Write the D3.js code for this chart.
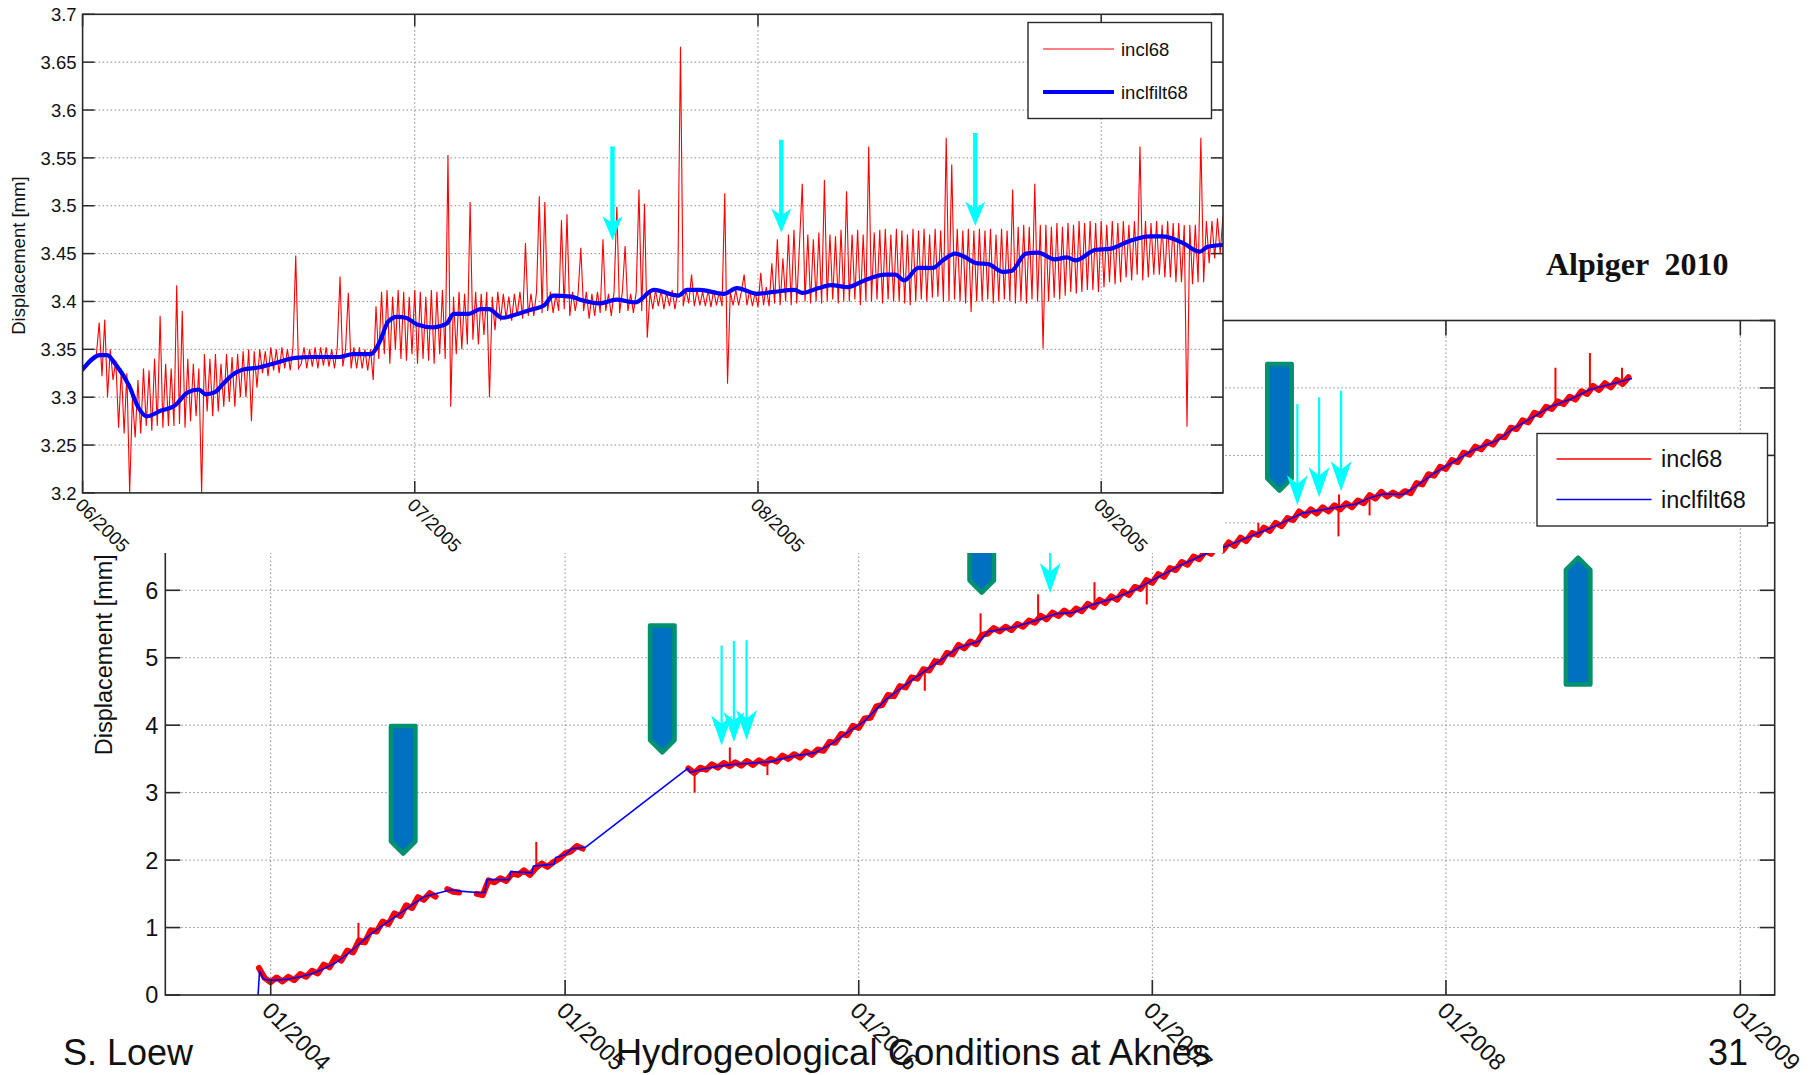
<!DOCTYPE html>
<html>
<head>
<meta charset="utf-8">
<script src="https://cdn.jsdelivr.net/npm/d3@7"></script>
<style>
  html, body { margin: 0; padding: 0; background: #ffffff; }
  svg { display: block; }
  text { font-family: "Liberation Sans", Arial, Helvetica, sans-serif; fill: #111; }
  text.serif { font-family: "Liberation Serif", "Times New Roman", serif; font-weight: bold; white-space: pre; }
</style>
</head>
<body>
<svg id="chart" width="1813" height="1075"></svg>
<script>
// ---------------------------------------------------------------------------
// Inclinometer 68 at Aknes: long-term record (2003-2008) with a zoomed inset
// covering June - mid September 2005.
// ---------------------------------------------------------------------------

// ---- long-term record -----------------------------------------------------
const mainYearDomain = [2003.641, 2009.117];
const mainYTicks = [0, 1, 2, 3, 4, 5, 6, 7, 8, 9, 10];
const mainXTickYears = [2004, 2005, 2006, 2007, 2008, 2009];

// filtered displacement (decimal year, mm)
const filtMainYears = [
  2003.957, 2003.962, 2003.975, 2003.990, 2004.030, 2004.066, 2004.100, 2004.142, 2004.180, 2004.218,
  2004.256, 2004.294, 2004.330, 2004.370, 2004.410, 2004.446, 2004.485, 2004.522, 2004.560, 2004.613,
  2004.643, 2004.700, 2004.727, 2004.735, 2004.810, 2004.815, 2004.887, 2004.892, 2004.963, 2004.968,
  2005.000, 2005.023, 2005.069, 2005.418, 2005.425, 2005.470, 2005.520, 2005.576, 2005.640, 2005.698,
  2005.774, 2005.850, 2005.910, 2005.971, 2006.017, 2006.092, 2006.184, 2006.275, 2006.335, 2006.412,
  2006.442, 2006.518, 2006.609, 2006.670, 2006.731, 2006.791, 2006.867, 2006.943, 2007.004, 2007.095,
  2007.217, 2007.244, 2007.335, 2007.428, 2007.508, 2007.614, 2007.694, 2007.740, 2007.787, 2007.854,
  2007.894, 2007.961, 2008.027, 2008.093, 2008.173, 2008.226, 2008.293, 2008.359, 2008.426, 2008.492,
  2008.572, 2008.632
];
const filtMainValues = [
  0.00, 0.36, 0.24, 0.22, 0.22, 0.24, 0.27, 0.32, 0.39, 0.47,
  0.59, 0.73, 0.87, 1.00, 1.12, 1.23, 1.35, 1.46, 1.50, 1.56,
  1.54, 1.52, 1.52, 1.71, 1.71, 1.83, 1.81, 1.91, 1.94, 2.04,
  2.08, 2.17, 2.19, 3.36, 3.30, 3.35, 3.39, 3.42, 3.44, 3.46,
  3.54, 3.59, 3.73, 3.92, 4.05, 4.38, 4.68, 4.95, 5.14, 5.25,
  5.39, 5.44, 5.56, 5.65, 5.67, 5.78, 5.88, 6.01, 6.16, 6.37,
  6.61, 6.64, 6.80, 6.97, 7.14, 7.22, 7.28, 7.37, 7.43, 7.42,
  7.53, 7.74, 7.91, 8.08, 8.22, 8.39, 8.56, 8.73, 8.84, 8.98,
  9.07, 9.14
];

// raw displacement, one reading every 0.02 yr from 2003.96 (null = no data)
const rawMainStart = 2003.96;
const rawMainStep = 0.02;
const rawMainValues = [
  0.40, 0.25, 0.19, 0.26, 0.20, 0.27, 0.22, 0.31, 0.27, 0.36,
  0.32, 0.45, 0.41, 0.56, 0.51, 0.66, 0.63, 0.81, 0.78, 0.96,
  0.94, 1.09, 1.05, 1.21, 1.17, 1.33, 1.29, 1.45, 1.41, 1.51,
  1.46, null, 1.57, 1.53, 1.52, null, null, 1.50, 1.48, 1.70,
  1.67, 1.73, 1.69, 1.80, 1.78, 1.85, 1.78, 1.88, 1.95, 1.90,
  1.97, 2.02, 2.10, 2.13, 2.21, 2.17, null, null, null, null,
  null, null, null, null, null, null, null, null, null, null,
  null, null, null, 3.36, 3.29, 3.37, 3.34, 3.42, 3.37, 3.44,
  3.39, 3.45, 3.40, 3.47, 3.41, 3.48, 3.43, 3.50, 3.46, 3.55,
  3.50, 3.57, 3.52, 3.61, 3.56, 3.64, 3.62, 3.75, 3.74, 3.87,
  3.85, 3.99, 3.96, 4.10, 4.11, 4.28, 4.30, 4.45, 4.43, 4.58,
  4.56, 4.71, 4.69, 4.83, 4.81, 4.95, 4.93, 5.07, 5.05, 5.19,
  5.14, 5.24, 5.20, 5.34, 5.36, 5.44, 5.39, 5.46, 5.41, 5.50,
  5.46, 5.55, 5.52, 5.62, 5.57, 5.67, 5.62, 5.70, 5.64, 5.73,
  5.69, 5.80, 5.75, 5.86, 5.81, 5.91, 5.86, 5.98, 5.93, 6.05,
  6.02, 6.15, 6.11, 6.24, 6.20, 6.33, 6.30, 6.42, 6.38, 6.50,
  6.46, 6.58, 6.54, 6.65, 6.59, 6.71, 6.66, 6.78, 6.73, 6.85,
  6.82, 6.93, 6.88, 7.00, 6.95, 7.07, 7.04, 7.17, 7.11, 7.20,
  7.14, 7.23, 7.17, 7.26, 7.20, 7.29, 7.23, 7.33, 7.29, 7.41,
  7.36, 7.46, 7.39, 7.45, 7.40, 7.47, 7.44, 7.59, 7.57, 7.72,
  7.70, 7.83, 7.80, 7.93, 7.90, 8.04, 8.01, 8.13, 8.09, 8.20,
  8.16, 8.28, 8.27, 8.41, 8.39, 8.52, 8.49, 8.63, 8.60, 8.72,
  8.69, 8.80, 8.76, 8.87, 8.83, 8.95, 8.91, 9.03, 8.97, 9.07,
  9.01, 9.12, 9.06, 9.16
];

// isolated outliers in the raw record: [decimal year, baseline mm, extreme mm]
const rawMainSpikes = [
  [2004.298, 0.78, 1.07], [2004.902, 1.88, 2.27], [2005.441, 3.30, 3.00],
  [2005.561, 3.41, 3.67], [2005.689, 3.45, 3.26], [2006.225, 4.82, 4.51],
  [2006.415, 5.26, 5.66], [2006.611, 5.57, 5.94], [2006.803, 5.79, 6.12],
  [2006.981, 6.10, 5.79], [2007.361, 6.85, 7.00], [2007.634, 7.23, 6.80],
  [2007.636, 7.23, 7.42], [2007.740, 7.37, 7.11], [2008.372, 8.75, 9.30],
  [2008.489, 8.97, 9.52], [2008.598, 9.10, 9.30]
];

// large block arrows: [decimal year, start mm, end (tip) mm]
const blockArrows = [
  [2004.450, 4.02, 2.05], [2005.331, 5.51, 3.55], [2006.419, 7.00, 5.92],
  [2007.433, 9.39, 7.43], [2008.449, 4.57, 6.53]
];
// thin cyan event arrows: [decimal year, start mm, tip mm]
const mainEventArrows = [
  [2005.533, 5.18, 3.70], [2005.575, 5.25, 3.75], [2005.618, 5.26, 3.78],
  [2006.652, 6.70, 5.96],
  [2007.494, 8.76, 7.26], [2007.568, 8.86, 7.38], [2007.643, 8.96, 7.47]
];

// ---- inset: June - September 2005 ------------------------------------------
const insetStart = "2005-06-01";
const insetEnd = "2005-09-12";
const insetYTicks = [3.2, 3.25, 3.3, 3.35, 3.4, 3.45, 3.5, 3.55, 3.6, 3.65, 3.7];

// raw readings every 6 hours from 2 June 2005 06:00
const rawInsetStart = "2005-06-02T06:00:00Z";
const rawInsetStepHours = 6;
const rawInsetValues = [
  3.345, 3.378, 3.322,
  3.381, 3.300, 3.350, 3.318,  3.338, 3.268, 3.330, 3.262,
  3.325, 3.200, 3.300, 3.258,  3.318, 3.262, 3.330, 3.270,
  3.328, 3.265, 3.340, 3.270,  3.385, 3.268, 3.335, 3.270,
  3.330, 3.270, 3.417, 3.272,  3.390, 3.268, 3.340, 3.275,
  3.335, 3.280, 3.330, 3.200,  3.345, 3.285, 3.340, 3.280,
  3.345, 3.285, 3.335, 3.290,  3.345, 3.295, 3.342, 3.290,
  3.345, 3.300, 3.348, 3.300,  3.350, 3.275, 3.348, 3.310,
  3.350, 3.325, 3.348, 3.322,  3.352, 3.328, 3.350, 3.325,
  3.352, 3.330, 3.350, 3.328,  3.352, 3.448, 3.330, 3.335,
  3.352, 3.330, 3.350, 3.332,  3.352, 3.330, 3.352, 3.333,
  3.352, 3.332, 3.350, 3.330,  3.352, 3.426, 3.332, 3.350,
  3.409, 3.330, 3.352, 3.330,  3.352, 3.330, 3.350, 3.328,
  3.350, 3.318, 3.395, 3.340,  3.410, 3.345, 3.412, 3.335,
  3.405, 3.350, 3.412, 3.340,  3.410, 3.338, 3.405, 3.345,
  3.412, 3.335, 3.410, 3.340,  3.405, 3.338, 3.412, 3.335,
  3.410, 3.345, 3.412, 3.340,  3.553, 3.290, 3.405, 3.345,
  3.410, 3.350, 3.408, 3.355,  3.504, 3.360, 3.410, 3.355,
  3.408, 3.365, 3.410, 3.300,  3.405, 3.370, 3.410, 3.380,
  3.408, 3.382, 3.405, 3.380,  3.408, 3.385, 3.410, 3.382,
  3.461, 3.385, 3.408, 3.385,  3.410, 3.510, 3.388, 3.504,
  3.390, 3.410, 3.388, 3.408,  3.390, 3.485, 3.392, 3.491,
  3.385, 3.410, 3.390, 3.408,  3.456, 3.390, 3.410, 3.382,
  3.408, 3.385, 3.410, 3.388,  3.465, 3.390, 3.408, 3.385,
  3.410, 3.499, 3.388, 3.410,  3.458, 3.390, 3.408, 3.388,
  3.410, 3.517, 3.390, 3.502,  3.362, 3.410, 3.392, 3.412,
  3.395, 3.412, 3.392, 3.410,  3.395, 3.412, 3.392, 3.410,
  3.666, 3.395, 3.412, 3.398,  3.428, 3.395, 3.412, 3.396,
  3.410, 3.395, 3.412, 3.394,  3.412, 3.396, 3.410, 3.395,
  3.513, 3.314, 3.410, 3.396,  3.412, 3.396, 3.410, 3.428,
  3.396, 3.412, 3.395, 3.410,  3.394, 3.430, 3.396, 3.415,
  3.395, 3.440, 3.398, 3.465,  3.396, 3.445, 3.400, 3.470,
  3.396, 3.475, 3.398, 3.460,  3.523, 3.400, 3.470, 3.398,
  3.465, 3.400, 3.472, 3.398,  3.527, 3.400, 3.470, 3.402,
  3.468, 3.398, 3.475, 3.400,  3.515, 3.400, 3.470, 3.402,
  3.475, 3.396, 3.470, 3.400,  3.562, 3.400, 3.472, 3.402,
  3.475, 3.398, 3.476, 3.402,  3.470, 3.400, 3.476, 3.400,
  3.474, 3.398, 3.470, 3.396,  3.476, 3.400, 3.474, 3.402,
  3.476, 3.400, 3.470, 3.404,  3.476, 3.405, 3.474, 3.400,
  3.571, 3.400, 3.543, 3.402,  3.476, 3.400, 3.474, 3.398,
  3.476, 3.389, 3.474, 3.400,  3.476, 3.400, 3.474, 3.402,
  3.476, 3.398, 3.470, 3.400,  3.476, 3.402, 3.474, 3.400,
  3.517, 3.398, 3.478, 3.400,  3.480, 3.398, 3.478, 3.402,
  3.523, 3.400, 3.480, 3.351,  3.480, 3.400, 3.478, 3.404,
  3.482, 3.402, 3.478, 3.406,  3.482, 3.410, 3.480, 3.408,
  3.484, 3.410, 3.482, 3.412,  3.484, 3.412, 3.482, 3.410,
  3.484, 3.415, 3.480, 3.420,  3.484, 3.418, 3.482, 3.420,
  3.484, 3.425, 3.480, 3.422,  3.484, 3.428, 3.562, 3.422,
  3.484, 3.425, 3.482, 3.428,  3.484, 3.428, 3.480, 3.425,
  3.484, 3.425, 3.482, 3.420,  3.482, 3.420, 3.480, 3.269,
  3.480, 3.418, 3.480, 3.420,  3.571, 3.420, 3.484, 3.440,
  3.484, 3.445, 3.487, 3.450,  3.490
];

// filtered series: [days after 1 June 2005, mm]
const filtInsetDays = [
  0, 1.6, 2.2, 3.0, 4.2, 5.0, 5.8, 7.1, 8.3, 9.5, 10.5, 11.1, 11.9, 12.7, 13.5, 14.5,
  15.9, 17.5, 19.2, 20.8, 23.2, 24.4, 26.0, 26.8, 27.6, 28.4, 29.2, 30.2, 31.7, 32.9,
  33.5, 34.9, 35.9, 36.7, 37.9, 39.3, 40.7, 41.7, 42.5, 44.1, 44.9, 46.7, 48.2, 49.9,
  51.6, 53.8, 54.6, 55.7, 57.9, 59.1, 60.9, 62.4, 64.3, 65.0, 66.5, 67.6, 69.1, 70.6,
  72.5, 73.4, 74.2, 75.5, 76.8, 77.7, 78.8, 79.6, 80.7, 81.8, 83.1, 83.9, 85.2, 86.3,
  87.8, 88.9, 89.7, 91.5, 92.8, 94.5, 96.4, 97.5, 99.4, 100.9, 101.6, 103.0
];
const filtInsetValues = [
  3.329, 3.344, 3.344, 3.334, 3.312, 3.290, 3.280, 3.286, 3.291, 3.305, 3.308, 3.303, 3.305, 3.314, 3.323, 3.329,
  3.331, 3.336, 3.341, 3.342, 3.342, 3.345, 3.345, 3.357, 3.379, 3.384, 3.383, 3.376, 3.373, 3.377,
  3.387, 3.387, 3.392, 3.392, 3.383, 3.387, 3.392, 3.396, 3.406, 3.405, 3.402, 3.398, 3.402, 3.399,
  3.412, 3.406, 3.412, 3.412, 3.408, 3.414, 3.408, 3.410, 3.412, 3.409, 3.414, 3.417, 3.415, 3.422,
  3.428, 3.428, 3.422, 3.435, 3.435, 3.443, 3.450, 3.447, 3.440, 3.439, 3.431, 3.432, 3.450, 3.451,
  3.444, 3.446, 3.443, 3.454, 3.455, 3.463, 3.468, 3.468, 3.461, 3.452, 3.457, 3.459
];

// cyan event arrows in the inset: [days after 1 June 2005, start mm, tip mm]
const insetEventArrows = [
  [47.86, 3.562, 3.464], [63.11, 3.569, 3.472], [80.63, 3.576, 3.479]
];

const seriesNames = ["incl68", "inclfilt68"];

// ---------------------------------------------------------------------------
const RED = "#ff0000", BLUE = "#0000ff", CYAN = "#00ffff";
const AXIS = "#2a2a2a", GRID = "#8a8a8a";
const svg = d3.select("#chart");

function yearToDate(y) {
  const yr = Math.floor(y);
  const s = Date.UTC(yr, 0, 1), e = Date.UTC(yr + 1, 0, 1);
  return new Date(s + (y - yr) * (e - s));
}

// ============================ long-term panel ==============================
const M = { left: 165.3, right: 1774.7, top: 320.5, bottom: 995 };
const mx = d3.scaleUtc()
  .domain(mainYearDomain.map(yearToDate))
  .range([M.left, M.right]);
const my = d3.scaleLinear().domain([0, 10]).range([M.bottom, M.top]);

const gMain = svg.append("g");
svg.append("clipPath").attr("id", "clipMain")
  .append("rect").attr("x", M.left).attr("y", M.top)
  .attr("width", M.right - M.left).attr("height", M.bottom - M.top);

const mainXTicks = mainXTickYears.map(y => new Date(Date.UTC(y, 0, 1)));

// grid
gMain.append("g").selectAll("line.v").data(mainXTicks).join("line")
  .attr("x1", d => mx(d)).attr("x2", d => mx(d))
  .attr("y1", M.top).attr("y2", M.bottom)
  .attr("stroke", GRID).attr("stroke-width", 1).attr("stroke-dasharray", "1.5 2.5");
gMain.append("g").selectAll("line.h").data(mainYTicks.slice(1, -1)).join("line")
  .attr("x1", M.left).attr("x2", M.right)
  .attr("y1", d => my(d)).attr("y2", d => my(d))
  .attr("stroke", GRID).attr("stroke-width", 1).attr("stroke-dasharray", "1.5 2.5");

// raw series
const rawMain = rawMainValues.map((v, i) => ({ t: yearToDate(rawMainStart + i * rawMainStep), v }));
const gMainData = gMain.append("g").attr("clip-path", "url(#clipMain)");
gMainData.append("path").datum(rawMain)
  .attr("fill", "none").attr("stroke", RED).attr("stroke-width", 6)
  .attr("stroke-linejoin", "round").attr("stroke-linecap", "round")
  .attr("d", d3.line().defined(d => d.v != null).x(d => mx(d.t)).y(d => my(d.v)));
gMainData.append("g").selectAll("line").data(rawMainSpikes).join("line")
  .attr("x1", d => mx(yearToDate(d[0]))).attr("x2", d => mx(yearToDate(d[0])))
  .attr("y1", d => my(d[1])).attr("y2", d => my(d[2]))
  .attr("stroke", RED).attr("stroke-width", 2);

// filtered series
const filtMain = filtMainYears.map((y, i) => ({ t: yearToDate(y), v: filtMainValues[i] }));
gMainData.append("path").datum(filtMain)
  .attr("fill", "none").attr("stroke", BLUE).attr("stroke-width", 1.6)
  .attr("stroke-linejoin", "round")
  .attr("d", d3.line().x(d => mx(d.t)).y(d => my(d.v)));

// block arrows (green outline, blue body)
const BW = 29, BS = 4.5;
gMain.append("g").selectAll("path").data(blockArrows).join("path")
  .attr("fill", "#0070c0").attr("stroke", "#00916e").attr("stroke-width", BS)
  .attr("stroke-linejoin", "round")
  .attr("d", d => {
    const cx = mx(yearToDate(d[0]));
    const hw = BW / 2 - BS / 2;
    const y0 = my(d[1]), y1 = my(d[2]);
    if (y1 > y0) { // pointing down
      const top = y0 + BS / 2, tip = y1 - BS * 0.7;
      return `M${cx - hw},${top}L${cx + hw},${top}L${cx + hw},${tip - hw}L${cx},${tip}L${cx - hw},${tip - hw}Z`;
    } else {       // pointing up
      const bot = y0 - BS / 2, tip = y1 + BS * 0.7;
      return `M${cx},${tip}L${cx + hw},${tip + hw}L${cx + hw},${bot}L${cx - hw},${bot}L${cx - hw},${tip + hw}Z`;
    }
  });

// cyan event arrows
function eventArrow(g, x, yStart, yTip, shaftW, headW, headH) {
  g.append("line").attr("x1", x).attr("x2", x)
    .attr("y1", yStart).attr("y2", yTip - headH * 0.5)
    .attr("stroke", CYAN).attr("stroke-width", shaftW);
  g.append("path").attr("fill", CYAN)
    .attr("d", `M${x},${yTip}L${x - headW / 2},${yTip - headH}L${x},${yTip - headH * 0.72}L${x + headW / 2},${yTip - headH}Z`);
}
const gMainEvents = gMain.append("g");
mainEventArrows.forEach(d => {
  eventArrow(gMainEvents, mx(yearToDate(d[0])), my(d[1]), my(d[2]), 2.2, 21, 30);
});

// frame + ticks
gMain.append("rect").attr("x", M.left).attr("y", M.top)
  .attr("width", M.right - M.left).attr("height", M.bottom - M.top)
  .attr("fill", "none").attr("stroke", AXIS).attr("stroke-width", 1.6);
const TL = 15;
const gMT = gMain.append("g").attr("stroke", AXIS).attr("stroke-width", 1.6);
mainYTicks.forEach(v => {
  gMT.append("line").attr("x1", M.left).attr("x2", M.left + TL).attr("y1", my(v)).attr("y2", my(v));
  gMT.append("line").attr("x1", M.right - TL).attr("x2", M.right).attr("y1", my(v)).attr("y2", my(v));
});
mainXTicks.forEach(t => {
  gMT.append("line").attr("x1", mx(t)).attr("x2", mx(t)).attr("y1", M.bottom).attr("y2", M.bottom - TL);
  gMT.append("line").attr("x1", mx(t)).attr("x2", mx(t)).attr("y1", M.top).attr("y2", M.top + TL);
});

// tick labels
gMain.append("g").selectAll("text").data(mainYTicks).join("text")
  .attr("x", M.left - 7).attr("y", d => my(d)).attr("dy", "0.36em")
  .attr("text-anchor", "end").attr("font-size", 23.5)
  .text(d => d);
const fmtMain = d3.utcFormat("%m/%Y");
gMain.append("g").selectAll("text").data(mainXTicks).join("text")
  .attr("transform", d => `translate(${mx(d) + 2},${M.bottom + 5}) rotate(45)`)
  .attr("dy", "0.72em").attr("font-size", 23.5)
  .text(d => fmtMain(d));
gMain.append("text")
  .attr("transform", `translate(112,${(M.top + M.bottom) / 2 - 3}) rotate(-90)`)
  .attr("text-anchor", "middle").attr("font-size", 23.5)
  .text("Displacement [mm]");

// legend
const LM = { x: 1537, y: 433.5, w: 230.5, h: 92.5 };
const gLM = gMain.append("g");
gLM.append("rect").attr("x", LM.x).attr("y", LM.y).attr("width", LM.w).attr("height", LM.h)
  .attr("fill", "#fff").attr("stroke", AXIS).attr("stroke-width", 1.4);
seriesNames.forEach((name, i) => {
  const yy = LM.y + 25.5 + i * 40.5;
  gLM.append("line").attr("x1", LM.x + 19.5).attr("x2", LM.x + 114.5).attr("y1", yy).attr("y2", yy)
    .attr("stroke", i === 0 ? RED : BLUE).attr("stroke-width", 1.3);
  gLM.append("text").attr("x", LM.x + 124).attr("y", yy).attr("dy", "0.36em")
    .attr("font-size", 23.5).text(name);
});

// ============================ inset panel ==================================
// white background of the inset covers the upper-left part of the long-term panel
svg.append("rect").attr("x", 0).attr("y", 0).attr("width", 1223).attr("height", 553).attr("fill", "#fff");

const I = { left: 82.6, right: 1223, top: 14.3, bottom: 492.9 };
const ix = d3.scaleUtc()
  .domain([new Date(insetStart + "T00:00:00Z"), new Date(insetEnd + "T00:00:00Z")])
  .range([I.left, I.right]);
const iy = d3.scaleLinear().domain([3.2, 3.7]).range([I.bottom, I.top]);
const gIn = svg.append("g");
svg.append("clipPath").attr("id", "clipInset")
  .append("rect").attr("x", I.left).attr("y", I.top)
  .attr("width", I.right - I.left).attr("height", I.bottom - I.top);

const insetXTicks = d3.utcMonth.range(ix.domain()[0], d3.utcDay.offset(ix.domain()[1], 1));

gIn.append("g").selectAll("line").data(insetXTicks.slice(1)).join("line")
  .attr("x1", d => ix(d)).attr("x2", d => ix(d)).attr("y1", I.top).attr("y2", I.bottom)
  .attr("stroke", GRID).attr("stroke-width", 1).attr("stroke-dasharray", "1.5 2.5");
gIn.append("g").selectAll("line").data(insetYTicks.slice(1, -1)).join("line")
  .attr("x1", I.left).attr("x2", I.right).attr("y1", d => iy(d)).attr("y2", d => iy(d))
  .attr("stroke", GRID).attr("stroke-width", 1).attr("stroke-dasharray", "1.5 2.5");

const rawStartDate = new Date(rawInsetStart);
const rawInset = rawInsetValues.map((v, i) => ({ t: d3.utcHour.offset(rawStartDate, i * rawInsetStepHours), v }));
const filtInset = filtInsetDays.map((dd, i) => ({
  t: new Date(ix.domain()[0].getTime() + dd * 864e5), v: filtInsetValues[i]
}));
const gInData = gIn.append("g").attr("clip-path", "url(#clipInset)");
gInData.append("path").datum(rawInset)
  .attr("fill", "none").attr("stroke", RED).attr("stroke-width", 1.1)
  .attr("stroke-linejoin", "miter")
  .attr("d", d3.line().x(d => ix(d.t)).y(d => iy(d.v)));
gInData.append("path").datum(filtInset)
  .attr("fill", "none").attr("stroke", BLUE).attr("stroke-width", 4.2)
  .attr("stroke-linejoin", "round").attr("stroke-linecap", "round")
  .attr("d", d3.line().curve(d3.curveMonotoneX).x(d => ix(d.t)).y(d => iy(d.v)));

const gInEvents = gIn.append("g");
insetEventArrows.forEach(d => {
  const t = new Date(ix.domain()[0].getTime() + d[0] * 864e5);
  eventArrow(gInEvents, ix(t), iy(d[1]), iy(d[2]), 4.5, 20, 24);
});

gIn.append("rect").attr("x", I.left).attr("y", I.top)
  .attr("width", I.right - I.left).attr("height", I.bottom - I.top)
  .attr("fill", "none").attr("stroke", AXIS).attr("stroke-width", 1.6);
const TI = 12;
const gIT = gIn.append("g").attr("stroke", AXIS).attr("stroke-width", 1.5);
insetYTicks.forEach(v => {
  gIT.append("line").attr("x1", I.left).attr("x2", I.left + TI).attr("y1", iy(v)).attr("y2", iy(v));
  gIT.append("line").attr("x1", I.right - TI).attr("x2", I.right).attr("y1", iy(v)).attr("y2", iy(v));
});
insetXTicks.forEach(t => {
  gIT.append("line").attr("x1", ix(t)).attr("x2", ix(t)).attr("y1", I.bottom).attr("y2", I.bottom - TI);
  gIT.append("line").attr("x1", ix(t)).attr("x2", ix(t)).attr("y1", I.top).attr("y2", I.top + TI);
});

const fmtY = d3.format(".3~f");
gIn.append("g").selectAll("text").data(insetYTicks).join("text")
  .attr("x", I.left - 6).attr("y", d => iy(d)).attr("dy", "0.36em")
  .attr("text-anchor", "end").attr("font-size", 18.5)
  .text(d => fmtY(d));
gIn.append("g").selectAll("text").data(insetXTicks).join("text")
  .attr("transform", d => `translate(${ix(d) + 1},${I.bottom + 4}) rotate(45)`)
  .attr("dy", "0.72em").attr("font-size", 18.5)
  .text(d => fmtMain(d));
gIn.append("text")
  .attr("transform", `translate(25,${(I.top + I.bottom) / 2 + 2}) rotate(-90)`)
  .attr("text-anchor", "middle").attr("font-size", 18.5)
  .text("Displacement [mm]");

const LI = { x: 1028, y: 22.5, w: 183.5, h: 96 };
const gLI = gIn.append("g");
gLI.append("rect").attr("x", LI.x).attr("y", LI.y).attr("width", LI.w).attr("height", LI.h)
  .attr("fill", "#fff").attr("stroke", AXIS).attr("stroke-width", 1.4);
seriesNames.forEach((name, i) => {
  const yy = LI.y + 26.5 + i * 43;
  gLI.append("line").attr("x1", LI.x + 15).attr("x2", LI.x + 86).attr("y1", yy).attr("y2", yy)
    .attr("stroke", i === 0 ? RED : BLUE).attr("stroke-width", i === 0 ? 1.2 : 4.2);
  gLI.append("text").attr("x", LI.x + 93).attr("y", yy).attr("dy", "0.36em")
    .attr("font-size", 18.5).text(name);
});

// ============================ captions =====================================
svg.append("text").attr("class", "serif").attr("x", 1546).attr("y", 275)
  .attr("font-size", 32)
  .text("Alpiger  2010");

svg.append("text").attr("x", 63).attr("y", 1065).attr("font-size", 36).text("S. Loew");
svg.append("text").attr("x", 913).attr("y", 1065).attr("text-anchor", "middle")
  .attr("font-size", 36.5).text("Hydrogeological Conditions at Aknes");
svg.append("text").attr("x", 1748).attr("y", 1065).attr("text-anchor", "end")
  .attr("font-size", 36).text("31");
</script>
</body>
</html>
